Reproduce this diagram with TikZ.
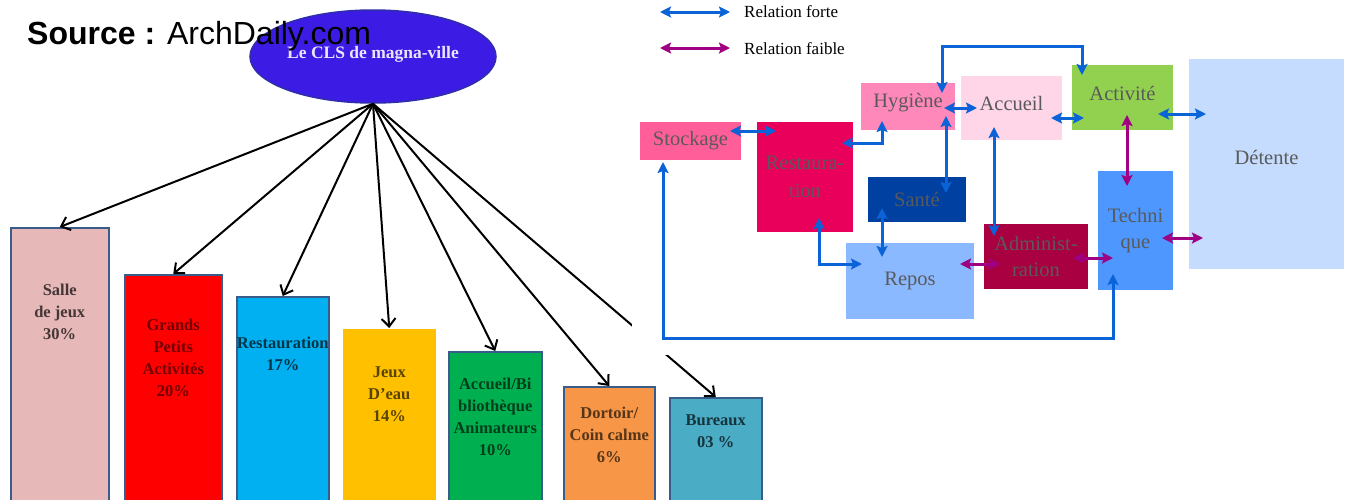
\documentclass[tikz,border=0pt]{standalone}
\usepackage{fontspec}
\setmainfont{Liberation Serif}
\newfontfamily\arialfont{Liberation Sans}
\usetikzlibrary{arrows.meta,calc,shapes.geometric}

\definecolor{clsblue}{RGB}{60,28,228}
\definecolor{clsline}{RGB}{48,44,170}
\definecolor{clstext}{RGB}{236,228,255}
\definecolor{barline}{RGB}{56,93,138}
\definecolor{salle}{HTML}{E6B8B7}
\definecolor{grands}{HTML}{FF0000}
\definecolor{restau}{HTML}{00B0F0}
\definecolor{jeux}{HTML}{FFC000}
\definecolor{accueil}{HTML}{00B050}
\definecolor{dortoir}{HTML}{F79646}
\definecolor{bureaux}{HTML}{4BACC6}
\definecolor{forte}{RGB}{10,100,215}
\definecolor{faible}{RGB}{160,0,130}
\definecolor{boxtext}{RGB}{90,90,90}
\definecolor{stockc}{RGB}{255,94,152}
\definecolor{restc}{RGB}{232,0,90}
\definecolor{hygc}{RGB}{255,136,186}
\definecolor{accc}{RGB}{255,213,232}
\definecolor{actc}{RGB}{146,208,80}
\definecolor{detc}{RGB}{197,220,255}
\definecolor{santec}{RGB}{0,64,160}
\definecolor{reposc}{RGB}{138,185,255}
\definecolor{adminc}{RGB}{168,0,64}
\definecolor{techc}{RGB}{77,151,255}

\begin{document}
\begin{tikzpicture}[x=1pt,y=-1pt]
	\tikzset{
		bar/.style n args={3}{draw=barline,line width=1.5pt,fill=#1,anchor=north west,inner sep=0pt,minimum width=#2pt,minimum height=#3pt},
		barlabel/.style={anchor=north,inner sep=0pt,align=center,font=\bfseries\fontsize{16.5}{22}\selectfont},
		fleche/.style={line width=2pt,-{Straight Barb[length=8pt,width=14pt]}},
		box/.style={fill=#1,text=boxtext,inner sep=0pt,align=center,font=\fontsize{20.5}{26}\selectfont},
		fort/.style={draw=forte,line width=3pt,>={Stealth[length=11pt,width=11pt,inset=2pt]},<->},
		faib/.style={fort,draw=faible},
		legend/.style={anchor=west,inner sep=0pt,font=\fontsize{17}{20}\selectfont}
	}
	\useasboundingbox (0,0) rectangle (1352,499);
	\path
	(10,227) node[bar={salle}{98}{273},label={[barlabel,text=salle!30!black,yshift=-57pt]north:{Salle\\de jeux\\30\%}}](salle){}
	(124,274) node[bar={grands}{97}{226},label={[barlabel,text=grands!45!black,yshift=-45pt]north:{Grands\\Petits\\Activités\\20\%}}](grands){}
	(236,296) node[bar={restau}{92}{204},label={[barlabel,text=restau!30!black,yshift=-41pt]north:{Restauration\\17\%}}](restau){}
	(342,328) node[bar={jeux}{93}{172},draw=none,label={[barlabel,text=jeux!35!black,yshift=-38pt]north:{Jeux\\D’eau\\14\%}}](jeux){}
	(448,351) node[bar={accueil}{93}{149},label={[barlabel,text=accueil!35!black,yshift=-27pt]north:{Accueil/Bi\\bliothèque\\Animateurs\\10\%}}](accueil){}
	(563,386) node[bar={dortoir}{91}{114},label={[barlabel,text=dortoir!35!black,yshift=-21pt]north:{Dortoir/\\Coin calme\\6\%}}](dortoir){}
	(669,397) node[bar={bureaux}{92}{103},label={[barlabel,text=bureaux!30!black,yshift=-17pt]north:{Bureaux\\03 \%}}](bureaux){}
	(373,56.5) node[ellipse,fill=clsblue,draw=clsline,line width=1.5pt,minimum width=246pt,minimum height=93pt,inner sep=0pt,text depth=8pt,text=clstext,font=\bfseries\fontsize{17.5}{20}\selectfont](cls){Le CLS de magna-ville}
	;
	\foreach \b in {salle,grands,restau,jeux,accueil,dortoir,bureaux}
		\draw[fleche] (cls.south) -- (\b.north);
	\fill[white] (632,0) rectangle (1352,355);
	\node[anchor=base west,inner sep=0pt,font=\arialfont\fontsize{32}{38}\selectfont] (src) at (27,44) {\textbf{Source :} ArchDaily.com};

	\coordinate (fa) at (660,12);
	\coordinate (fb) at (730,12);
	\coordinate (wa) at (660,48);
	\coordinate (wb) at (730,48);
	\draw[fort] (fa) -- (fb);
	\draw[faib] (wa) -- (wb);
	\node[legend] (lforte) at (744,12) {Relation forte};
	\node[legend] (lfaible) at (744,49) {Relation faible};

	\path
	(690.5,141) node[box=stockc,minimum width=101pt,minimum height=38pt](stock){Stockage}
	(805,177) node[box=restc,minimum width=96pt,minimum height=110pt,font=\fontsize{20.5}{28}\selectfont](rest){Restaura-\\tion}
	(908,106.5) node[box=hygc,minimum width=94pt,minimum height=47pt,text depth=12.5pt](hyg){Hygiène}
	(1011.5,108) node[box=accc,minimum width=101pt,minimum height=64pt,text depth=10pt](acc){Accueil}
	(1122.5,97.5) node[box=actc,minimum width=101pt,minimum height=65pt,text depth=9pt](act){Activité}
	(1266.5,164) node[box=detc,minimum width=155pt,minimum height=210pt,text depth=14pt](det){Détente}
	(917,199.5) node[box=santec,minimum width=98pt,minimum height=45pt](sante){Santé}
	(910,281) node[box=reposc,minimum width=128pt,minimum height=76pt](repos){Repos}
	(1036,256.5) node[box=adminc,minimum width=104pt,minimum height=65pt](admin){Administ-\\ration}
	(1135.5,230.5) node[box=techc,minimum width=75pt,minimum height=119pt](tech){Techni\\que}
	;
	\draw[fort] ($(stock)+(39.5,-10)$) -- ($(rest)+(-29,-46)$);
	\draw[fort] ($(rest)+(37,-34)$) -| ($(hyg)+(-26,14.5)$);
	\draw[fort] ($(hyg)+(36,1.5)$) -- ($(acc)+(-34.5,0)$);
	\draw[fort] ($(hyg)+(38,9.5)$) -- ($(sante)+(29,-6.5)$);
	\draw[fort] ($(hyg)+(34,-13.5)$) |- ($(act)+(-40.5,-51.5)$) -- ($(act)+(-40.5,-22.5)$);
	\draw[fort] ($(acc)+(39.5,10)$) -- ($(act)+(-38.5,20.5)$);
	\draw[fort] ($(act)+(35.5,16.5)$) -- ($(det)+(-60.5,-50)$);
	\draw[fort] ($(acc)+(-17.5,19)$) -- ($(admin)+(-42,-20.5)$);
	\draw[fort] ($(rest)+(14,41)$) |- ($(repos)+(-48,-17)$);
	\draw[fort] ($(sante)+(-35,8.5)$) -- ($(repos)+(-28,-24)$);
	\draw[fort] ($(stock)+(-27.5,21)$) |- ($(tech)+(-22.5,107.5)$) -- ($(tech)+(-22.5,43.5)$);
	\draw[faib] ($(act)+(4.5,17.5)$) -- ($(tech)+(-8.5,-44.5)$);
	\draw[faib] ($(tech)+(26.5,7.5)$) -- ($(det)+(-63.5,74)$);
	\draw[faib] ($(admin)+(37,1.5)$) -- ($(tech)+(-22.5,27.5)$);
	\draw[faib] ($(repos)+(50,-17)$) -- ($(admin)+(-36,7.5)$);
\end{tikzpicture}
\end{document}
